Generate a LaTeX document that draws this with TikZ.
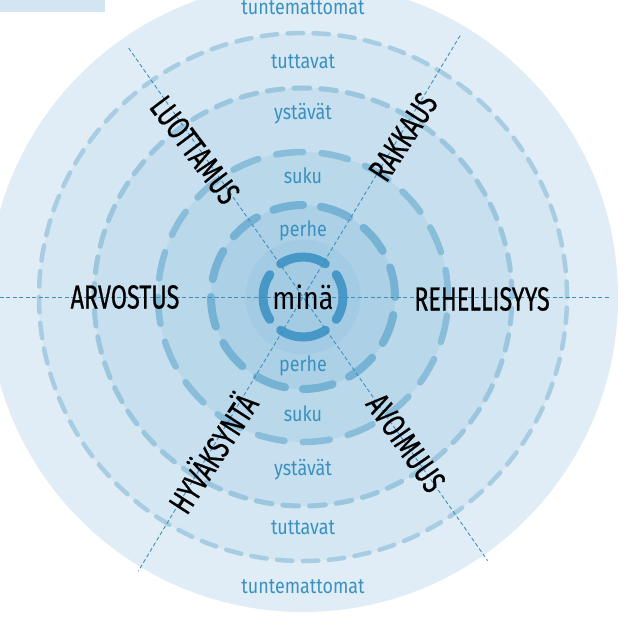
\documentclass[tikz,border=0pt]{standalone}
\usepackage{fontspec}
\newfontfamily\handfont[FakeStretch=0.7,FakeBold=0.6]{Fira Sans}
\newfontfamily\ringfont[FakeStretch=0.85]{Fira Sans}
\usepackage{xcolor}
\usetikzlibrary{positioning}

\definecolor{bandout}{HTML}{E0EDF6}
\definecolor{bandtut}{HTML}{D4E7F2}
\definecolor{bandyst}{HTML}{C7DFEE}
\definecolor{bandsuku}{HTML}{B9D8EA}
\definecolor{bandperhe}{HTML}{ACD1E7}
\definecolor{bandcore}{HTML}{A3CBE3}
\definecolor{dashone}{HTML}{A8CDE2}
\definecolor{dashtwo}{HTML}{9BC6DE}
\definecolor{dashthree}{HTML}{8ABDD9}
\definecolor{dashfour}{HTML}{76B2D4}
\definecolor{corearc}{HTML}{4798C7}
\definecolor{ringtext}{HTML}{3A91BF}
\definecolor{axisline}{HTML}{3F8FBD}
\definecolor{tabfill}{HTML}{D3E5F1}

\pgfdeclareradialshading{glow}{\pgfpoint{0bp}{0bp}}{color(0bp)=(bandout); color(41bp)=(bandout); color(46bp)=(bandout!60!white); color(50bp)=(white)}

\begin{document}
\begin{tikzpicture}[
  ring/.style={font=\ringfont\fontsize{12}{14}\selectfont,text=ringtext,inner sep=0pt},
  lbl/.style={font=\handfont\fontsize{19}{21}\selectfont,text=black,inner sep=0pt},
  me/.style={font=\ringfont\fontsize{18}{20}\selectfont,text=black,inner sep=0pt},
  circone/.style={draw=dashone,line width=0.09cm,line cap=round,dash pattern=on 0.3084cm off 0.21cm},
  circtwo/.style={draw=dashtwo,line width=0.1cm,line cap=round,dash pattern=on 0.316cm off 0.22cm},
  circthree/.style={draw=dashthree,line width=0.13cm,line cap=round,dash pattern=on 0.541cm off 0.37cm},
  circfour/.style={draw=dashfour,line width=0.16cm,line cap=round,dash pattern=on 0.6034cm off 0.36cm},
  core/.style={draw=corearc,line width=0.18cm,line cap=round},
  axis/.style={draw=axisline,line width=0.5pt,dash pattern=on 0.08cm off 0.05cm}
]

\useasboundingbox[fill=white] (-6.06,-6.40) rectangle (6.68,5.94);
\fill[tabfill] (-6.06,5.94) rectangle (-3.96,5.70);

% bands
\shade[shading=glow] (0,0) circle (6.3);
\fill[bandtut] (0,0) circle (5.28);
\fill[bandyst] (0,0) circle (4.18);
\fill[bandsuku] (0,0) circle (2.9);
\fill[bandperhe] (0,0) circle (1.84);
\fill[bandcore] (0,0) circle (1.15);

% dashed rings
\draw[circone] (0,0) circle (5.28);
\draw[circtwo] (0,0) circle (4.18);
\draw[circthree] (0,0) circle (2.9);
\draw[circfour] (0,0) circle (1.84);
\foreach \a in {0,90,180,270}
  \draw[core] (\a-34:0.8) arc (\a-34:\a+34:0.8);

% axes
\coordinate (west) at (-6.06,0);
\coordinate (east) at (6.14,0);
\coordinate (nw) at (125:6.08);
\coordinate (se) at (-55:6.44);
\coordinate (ne) at (59:6.1);
\coordinate (sw) at (239:6.4);
\draw[axis] (west) -- (east);
\draw[axis] (nw) -- (se);
\draw[axis] (ne) -- (sw);

% ring names
\node[ring] (tuntN) at (0,5.79) {tuntemattomat};
\node[ring] (tutN) at (0,4.71) {tuttavat};
\node[ring] (ystN) at (0,3.66) {ystävät};
\node[ring] (sukuN) at (0,2.42) {suku};
\node[ring] (perheN) at (0,1.32) {perhe};
\node[ring] (perheS) at (0,-1.38) {perhe};
\node[ring] (sukuS) at (0,-2.34) {suku};
\node[ring] (ystS) at (0,-3.46) {ystävät};
\node[ring] (tutS) at (0,-4.62) {tuttavat};
\node[ring] (tuntS) at (0,-5.80) {tuntemattomat};

% values
\node[me] (mina) at (0,0) {minä};
\node[lbl] (arvostus) at (-3.56,0) {ARVOSTUS};
\node[lbl] (rehellisyys) at (3.58,-0.04) {REHELLISYYS};
\node[lbl,rotate=-53] (luottamus) at (-2.16,2.94) {LUOTTAMUS};
\node[lbl,rotate=57] (rakkaus) at (2.0,3.2) {RAKKAUS};
\node[lbl,rotate=57] (hyvaksynta) at (-1.84,-3.1) {HYVÄKSYNTÄ};
\node[lbl,rotate=-55] (avoimuus) at (2.06,-2.92) {AVOIMUUS};

\end{tikzpicture}
\end{document}
